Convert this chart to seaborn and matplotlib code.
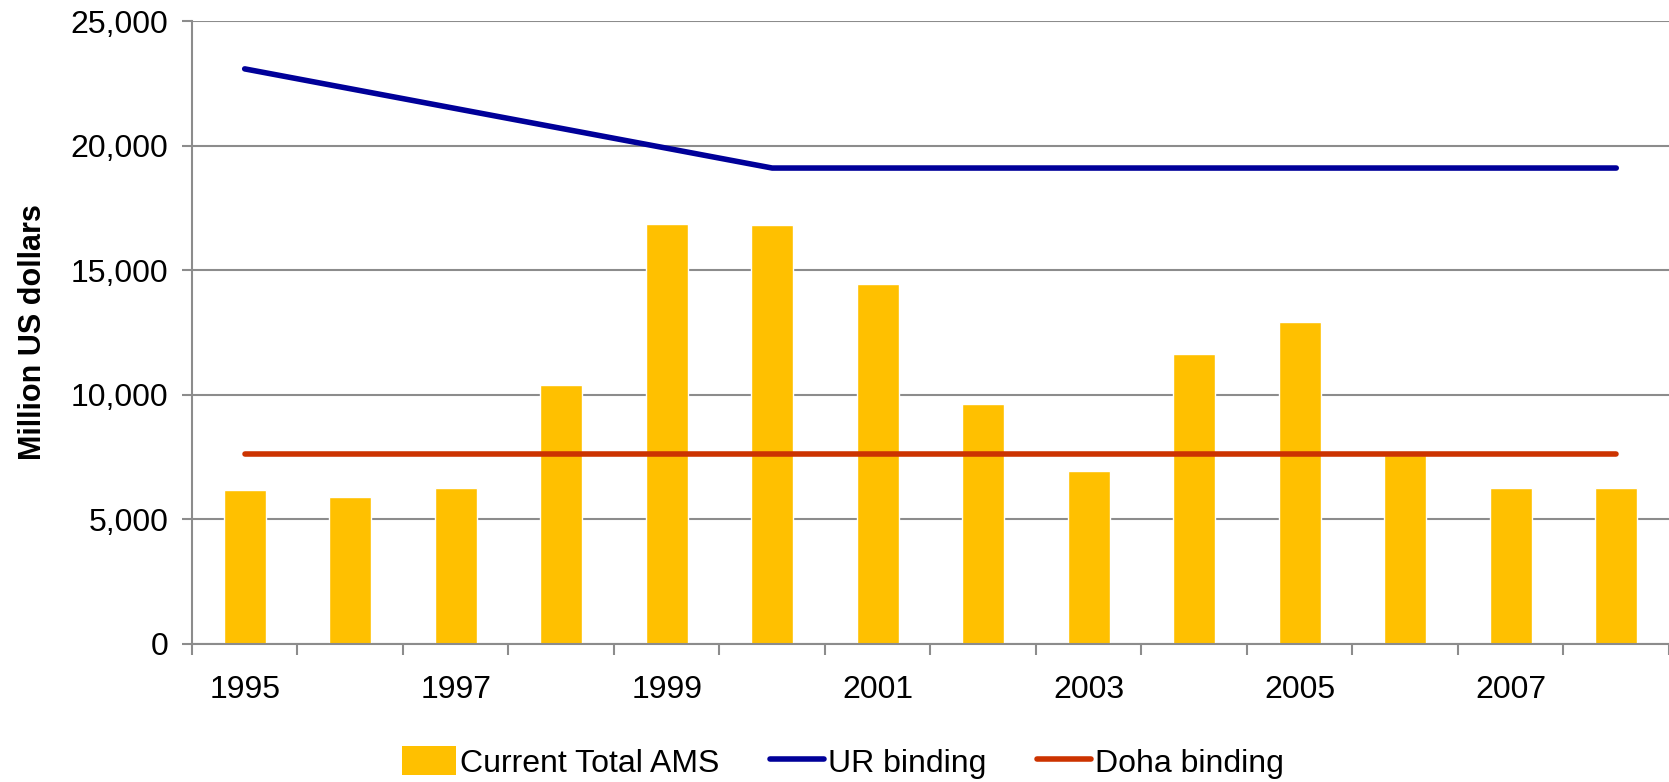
import numpy as np
import pandas as pd
import matplotlib.pyplot as plt
import seaborn as sns
from matplotlib.ticker import FuncFormatter, FixedLocator
from matplotlib.patches import Patch
from matplotlib.lines import Line2D

# Data
years = [1995, 1996, 1997, 1998, 1999, 2000, 2001, 2002, 2003, 2004, 2005, 2006, 2007, 2008]
current_ams = [6190, 5880, 6245, 10390, 16860, 16820, 14460, 9620, 6940, 11620, 12940, 7600, 6250, 6250]
ur_binding = [23083, 22287, 21491, 20695, 19899, 19103, 19103, 19103, 19103, 19103, 19103, 19103, 19103, 19103]
doha_binding = [7637] * 14

df = pd.DataFrame({"year": years, "ams": current_ams, "ur": ur_binding, "doha": doha_binding})

sns.set_style("white")
plt.rcParams['font.family'] = ['Liberation Sans', 'DejaVu Sans']
plt.rcParams['text.color'] = 'black'
plt.rcParams['xtick.labelcolor'] = 'black'
plt.rcParams['ytick.labelcolor'] = 'black'
plt.rcParams['axes.labelcolor'] = 'black'

fig = plt.figure(figsize=(16.69, 7.82), dpi=100)
ax = fig.add_axes([0.115, 0.1765, 0.885, 0.7965])

bar_col = "#FFC000"
ur_col = "#000099"
doha_col = "#CC3300"

sns.barplot(data=df, x="year", y="ams", color=bar_col, width=0.4, saturation=1, ax=ax, zorder=2)
pos = np.arange(len(years))
sns.lineplot(x=pos, y=df["ur"], color=ur_col, linewidth=4, ax=ax, zorder=3,
             solid_capstyle="round")
sns.lineplot(x=pos, y=df["doha"], color=doha_col, linewidth=4, ax=ax, zorder=3,
             solid_capstyle="round")

ax.set_xlim(-0.5, len(years) - 0.5)
ax.set_ylim(0, 25000)
ax.set_yticks(range(0, 25001, 5000))
ax.yaxis.set_major_formatter(FuncFormatter(lambda v, p: f"{int(v):,}"))
ax.yaxis.grid(True, color="#8c8c8c", linewidth=1.5, zorder=0)
ax.set_axisbelow(True)

ax.set_xticks(pos[::2])
ax.set_xticklabels([str(y) for y in years[::2]])
ax.xaxis.set_minor_locator(FixedLocator(np.arange(-0.5, len(years), 1.0)))
ax.tick_params(axis="x", which="major", length=0, pad=22, labelsize=23)
ax.tick_params(axis="x", which="minor", length=8, width=1.5, color="#8c8c8c", direction="out", bottom=True)
ax.tick_params(axis="y", length=7, width=1.5, color="#8c8c8c", direction="out", left=True, pad=10, labelsize=23)

for s in ["top", "right"]:
    ax.spines[s].set_visible(False)
for s in ["left", "bottom"]:
    ax.spines[s].set_color("#8c8c8c")
    ax.spines[s].set_linewidth(1.5)

ax.set_xlabel("")
ax.set_ylabel("Million US dollars", fontsize=22, fontweight="bold", labelpad=16)

handles = [
    Patch(facecolor=bar_col, edgecolor="none"),
    Line2D([0], [0], color=ur_col, linewidth=4),
    Line2D([0], [0], color=doha_col, linewidth=4),
]
fig.legend(handles, ["Current Total AMS", "UR binding", "Doha binding"],
           loc="center", bbox_to_anchor=(0.505, 0.025), ncol=3, frameon=False,
           fontsize=23, handlelength=1.7, handleheight=1.0, handletextpad=0.1,
           columnspacing=1.6)

plt.savefig("out.png", dpi=100)
